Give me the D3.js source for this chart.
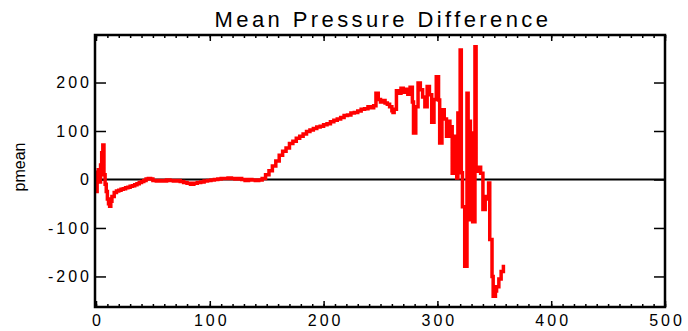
<!DOCTYPE html>
<html>
<head>
<meta charset="utf-8">
<script src="https://cdn.jsdelivr.net/npm/d3@7"></script>
<style>
	body { margin:0; background:#fff; }
	text { font-family:"Liberation Sans", Arial, sans-serif; fill:#000; }
</style>
</head>
<body>
<div id="contentpane"></div>
<script>
//////////
// Data //
//////////

var titleText = "Mean Pressure Difference";
var yLabel = "pmean";
var xTicks = [0, 100, 200, 300, 400, 500];
var yTicks = [-200, -100, 0, 100, 200];

// pressure difference
var xs = [0,1,2,3,4,5,6,7,8,9,10,11,12,13,14,16,18,20,22,24,26,28,30,32,34,36,38,40,42,44,46,48,50,53,56,59,62,65,68,71,74,77,80,83,86,89,92,95,98,101,104,107,110,113,116,119,122,125,128,131,134,137,140,143,146,149,152,155,158,161,164,167,170,173,176,179,182,185,188,191,194,197,200,203,206,209,212,215,218,221,224,227,230,233,236,239,242,244,246,248,250,252,254,256,258,260,261,262,264,266,268,270,272,274,276,278,279,281,283,285,287,289,291,293,295,297,299,301,302,304,306,308,310,311,313,315,317,318,320,321,322,324,326,327,329,330,331,333,334,336,338,340,342,343,345,346,348,349,351,352,354,356,358];
var pmean = [-25,15,20,-5,30,55,71,10,-10,-25,-40,-50,-55,-45,-35,-27,-24,-22,-20,-19,-17,-16,-14,-13,-11,-9,-6,-4,-2,1,2,1,-2,-3,-2,-3,-1,-2,-3,-2,-4,-6,-8,-10,-8,-6,-5,-3,-2,-1,0,1,2,2,3,2,1,2,0,-2,0,-1,-2,-1,2,10,18,28,38,50,58,65,74,79,85,89,94,99,102,105,108,110,113,115,119,122,125,128,132,133,137,138,141,145,146,150,148,152,178,165,160,163,158,155,150,142,138,145,183,178,188,180,186,176,190,160,96,150,199,185,170,150,192,175,118,165,212,164,75,144,125,89,120,109,13,89,3,137,267,14,-56,-179,178,120,-83,96,-87,274,17,25,13,-62,-40,-35,-7,-124,-200,-241,-230,-221,-205,-190,-176];

var data = xs.map(function(d, i) { return {x:d, y:pmean[i]}; });

///////////////////
// Initial setup //
///////////////////

var width = 688;
var height = 331;
var svg = d3.select("#contentpane").append("svg")
	.attr("width", width).attr("height", height);

var x = d3.scaleLinear().domain([0, 500]).range([96, 665]);
var y = d3.scaleLinear().domain([-263, 298]).range([307, 35]);

// Title
svg.append("text")
	.attr("x", 383).attr("y", 27)
	.attr("text-anchor", "middle")
	.attr("font-size", "22px")
	.attr("letter-spacing", "3.4px")
	.text(titleText);

// Y label
svg.append("text")
	.attr("transform", "translate(25,167) rotate(-90)")
	.attr("text-anchor", "middle")
	.attr("font-size", "16px")
	.text(yLabel);

// Axes
function styleAxis(g, showText) {
	g.select(".domain").remove();
	g.selectAll("line").attr("stroke", "#000").attr("stroke-width", 1.5);
	if (!showText) g.selectAll("text").remove();
	else g.selectAll("text")
		.attr("font-size", "16px")
		.attr("letter-spacing", "3px")
		.attr("font-family", "Liberation Sans, Arial, sans-serif");
}

var fmt = function(d) { return String(d); };
var minorX = d3.range(0, 501, 10);

svg.append("g").attr("transform", "translate(0,307)")
	.call(d3.axisBottom(x).tickValues(minorX).tickSize(-3).tickFormat(""))
	.call(styleAxis, false);
svg.append("g").attr("transform", "translate(0,35)")
	.call(d3.axisTop(x).tickValues(minorX).tickSize(-3).tickFormat(""))
	.call(styleAxis, false);

svg.append("g").attr("transform", "translate(0,307)")
	.call(d3.axisBottom(x).tickValues(xTicks).tickSize(-6).tickPadding(8).tickFormat(fmt))
	.call(styleAxis, true)
	.selectAll("text").attr("dx", "1.5px");
svg.append("g").attr("transform", "translate(0,35)")
	.call(d3.axisTop(x).tickValues(xTicks).tickSize(-6).tickFormat(""))
	.call(styleAxis, false);

svg.append("g").attr("transform", "translate(95,0)")
	.call(d3.axisLeft(y).tickValues(yTicks).tickSize(-11).tickPadding(3).tickFormat(fmt))
	.call(styleAxis, true);
svg.append("g").attr("transform", "translate(665,0)")
	.call(d3.axisRight(y).tickValues(yTicks).tickSize(-11).tickFormat(""))
	.call(styleAxis, false);

// Zero line
svg.append("line")
	.attr("x1", x(0)).attr("x2", x(500))
	.attr("y1", y(0)).attr("y2", y(0))
	.attr("stroke", "#000").attr("stroke-width", 2);

// Data line
var line = d3.line()
	.curve(d3.curveStepAfter)
	.x(function(d) { return x(d.x); })
	.y(function(d) { return y(d.y); });

svg.append("path").datum(data)
	.attr("fill", "none")
	.attr("stroke", "#ff0000")
	.attr("stroke-width", 3.5)
	.attr("d", line);

// Frame
svg.append("rect")
	.attr("x", 95).attr("y", 35)
	.attr("width", 570).attr("height", 272)
	.attr("fill", "none")
	.attr("stroke", "#000")
	.attr("stroke-width", 2.5);
</script>
</body>
</html>
